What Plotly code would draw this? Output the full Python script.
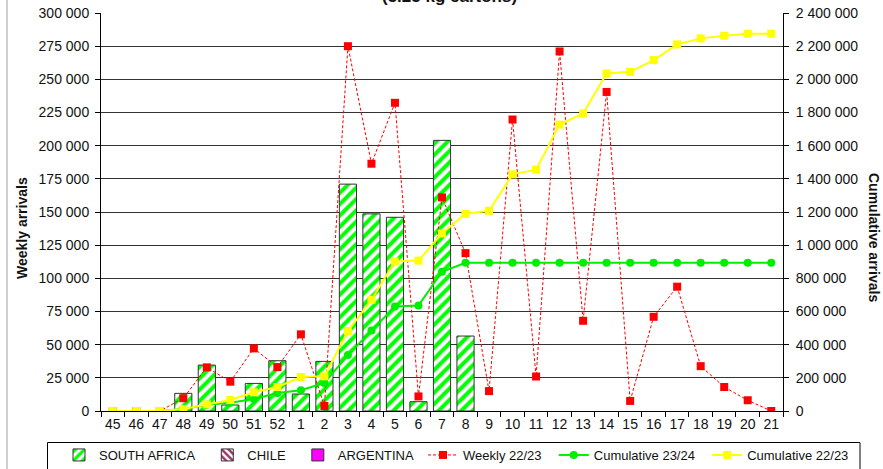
import plotly.graph_objects as go

weeks = ["45", "46", "47", "48", "49", "50", "51", "52", "1", "2", "3", "4", "5", "6", "7", "8",
         "9", "10", "11", "12", "13", "14", "15", "16", "17", "18", "19", "20", "21"]

south_africa = [None, None, None, 13300, 34600, 4500, 20800, 37900, 12800, 37400, 171000, 148600,
                146000, 7000, 204000, 56500, None, None, None, None, None, None, None, None, None,
                None, None, None, None]

weekly_2223 = [0, 0, 0, 9600, 32900, 22100, 47200, 33100, 57800, 3800, 275000, 186400, 232300,
               11000, 161000, 119000, 15000, 219700, 26000, 271000, 68000, 240500, 7600, 71000,
               93700, 33800, 18100, 8100, 0]

cum_2324 = [0, 0, 0, 12000, 38000, 50000, 72000, 108000, 125000, 169000, 337000, 485000, 630000,
            636000, 840000, 894000, 894000, 894000, 894000, 894000, 894000, 894000, 894000, 894000,
            894000, 894000, 894000, 894000, 894000]

cum_2223 = [0, 0, 0, 12000, 40000, 66000, 112600, 144600, 204800, 209000, 482000, 671000, 901000,
            907000, 1070000, 1189000, 1207000, 1427000, 1455000, 1727000, 1794000, 2035000,
            2045000, 2116000, 2211000, 2247000, 2263000, 2275000, 2275000]

FONT = "Liberation Sans, Arial, sans-serif"
PAD = "\u00a0\u00a0"

W, H = 883, 469
ML, MR, MT, MB = 101, 100, 13, 58
PW = W - ML - MR
PH = H - MT - MB


def px_x(x):
    return (x - ML) / PW


def px_y(y):
    return (H - MB - y) / PH


fig = go.Figure()

fig.add_trace(go.Bar(
    x=weeks, y=south_africa, name="SOUTH AFRICA" + PAD, legend="legend",
    marker=dict(color="white", line=dict(color="#333333", width=1),
                pattern=dict(shape="/", fgcolor="#00FF00", bgcolor="white", size=8, solidity=0.5)),
))
fig.add_trace(go.Bar(
    x=weeks, y=[None] * len(weeks), name="CHILE" + PAD, legend="legend",
    marker=dict(color="white", line=dict(color="#333333", width=1),
                pattern=dict(shape="\\", fgcolor="#993366", bgcolor="white", size=6, solidity=0.5)),
))
fig.add_trace(go.Bar(
    x=weeks, y=[None] * len(weeks), name="ARGENTINA" + PAD, legend="legend",
    marker=dict(color="#FF00FF", line=dict(color="#333333", width=1)),
))
fig.add_trace(go.Scatter(
    x=weeks, y=weekly_2223, name="Weekly 22/23" + PAD, mode="lines+markers", legend="legend2",
    line=dict(color="#FF0000", width=1, dash="3px,2px"),
    marker=dict(symbol="square", color="#FF0000", size=8),
))
fig.add_trace(go.Scatter(
    x=weeks, y=cum_2324, name="Cumulative 23/24" + PAD, mode="lines+markers", yaxis="y2",
    legend="legend2",
    line=dict(color="#00EE00", width=2),
    marker=dict(symbol="circle", color="#00EE00", size=8),
))
fig.add_trace(go.Scatter(
    x=weeks, y=cum_2223, name="Cumulative 22/23" + PAD, mode="lines+markers", yaxis="y2",
    legend="legend2",
    line=dict(color="#FFFF00", width=2),
    marker=dict(symbol="square", color="#FFFF00", size=8),
))

legend_common = dict(orientation="h", xanchor="left", yanchor="top", borderwidth=0,
                     bgcolor="rgba(0,0,0,0)",
                     font=dict(family=FONT, size=13, color="#111111"),
                     traceorder="normal")

fig.update_layout(
    template="none",
    width=W, height=H,
    margin=dict(l=ML, r=MR, t=MT, b=MB, autoexpand=False),
    paper_bgcolor="white", plot_bgcolor="white",
    font=dict(family=FONT, size=14, color="#111111"),
    separators=". ",
    barmode="overlay", bargap=0.27,
    showlegend=True,
    legend=dict(x=px_x(59), y=px_y(440), **legend_common),
    legend2=dict(x=px_x(423), y=px_y(440), **legend_common),
    xaxis=dict(type="category", range=[-0.5, len(weeks) - 0.5], showline=True,
               linecolor="#000000", linewidth=1,
               ticks="outside", ticklen=5, tickcolor="#000000", tickson="boundaries",
               showgrid=False, tickfont=dict(size=14), tickangle=0, automargin=False,
               zeroline=False),
    yaxis=dict(range=[0, 300000], dtick=25000, tickformat=",d", showline=True,
               linecolor="#000000", linewidth=1, ticks="outside", ticklen=5,
               tickcolor="#000000", showgrid=True, gridcolor="#333333", gridwidth=1,
               zeroline=False, tickfont=dict(size=14), automargin=False,
               ticklabelstandoff=3),
    yaxis2=dict(range=[0, 2400000], dtick=200000, tickformat=",d", overlaying="y",
                side="right", showline=True, linecolor="#000000", linewidth=1,
                ticks="outside", ticklen=5, tickcolor="#000000", showgrid=False,
                zeroline=False, tickfont=dict(size=14), automargin=False,
                ticklabelstandoff=4),
    annotations=[
        dict(text="<b>(5.25 kg cartons)</b>", xref="paper", yref="paper", x=px_x(449.5),
             y=px_y(8.5), xanchor="center", yanchor="bottom", showarrow=False,
             font=dict(size=17)),
        dict(text="<b>Weekly arrivals</b>", xref="paper", yref="paper",
             x=px_x(22), y=px_y(228), xanchor="center", yanchor="middle",
             textangle=-90, showarrow=False, font=dict(size=14)),
        dict(text="<b>Cumulative arrivals</b>", xref="paper", yref="paper",
             x=px_x(874), y=px_y(237), xanchor="center", yanchor="middle",
             textangle=90, showarrow=False, font=dict(size=14)),
    ],
    shapes=[
        dict(type="line", xref="paper", yref="paper", x0=px_x(7), x1=px_x(7),
             y0=-0.2, y1=1.1, line=dict(color="#A0A0A0", width=1)),
        dict(type="rect", xref="paper", yref="paper", x0=px_x(47.5), x1=px_x(860),
             y0=px_y(442.5), y1=px_y(480), line=dict(color="#000000", width=1),
             fillcolor="white", layer="below"),
    ],
)

fig.write_html("out.html", config={"displayModeBar": False},
               post_script="document.body.style.margin='0';")
